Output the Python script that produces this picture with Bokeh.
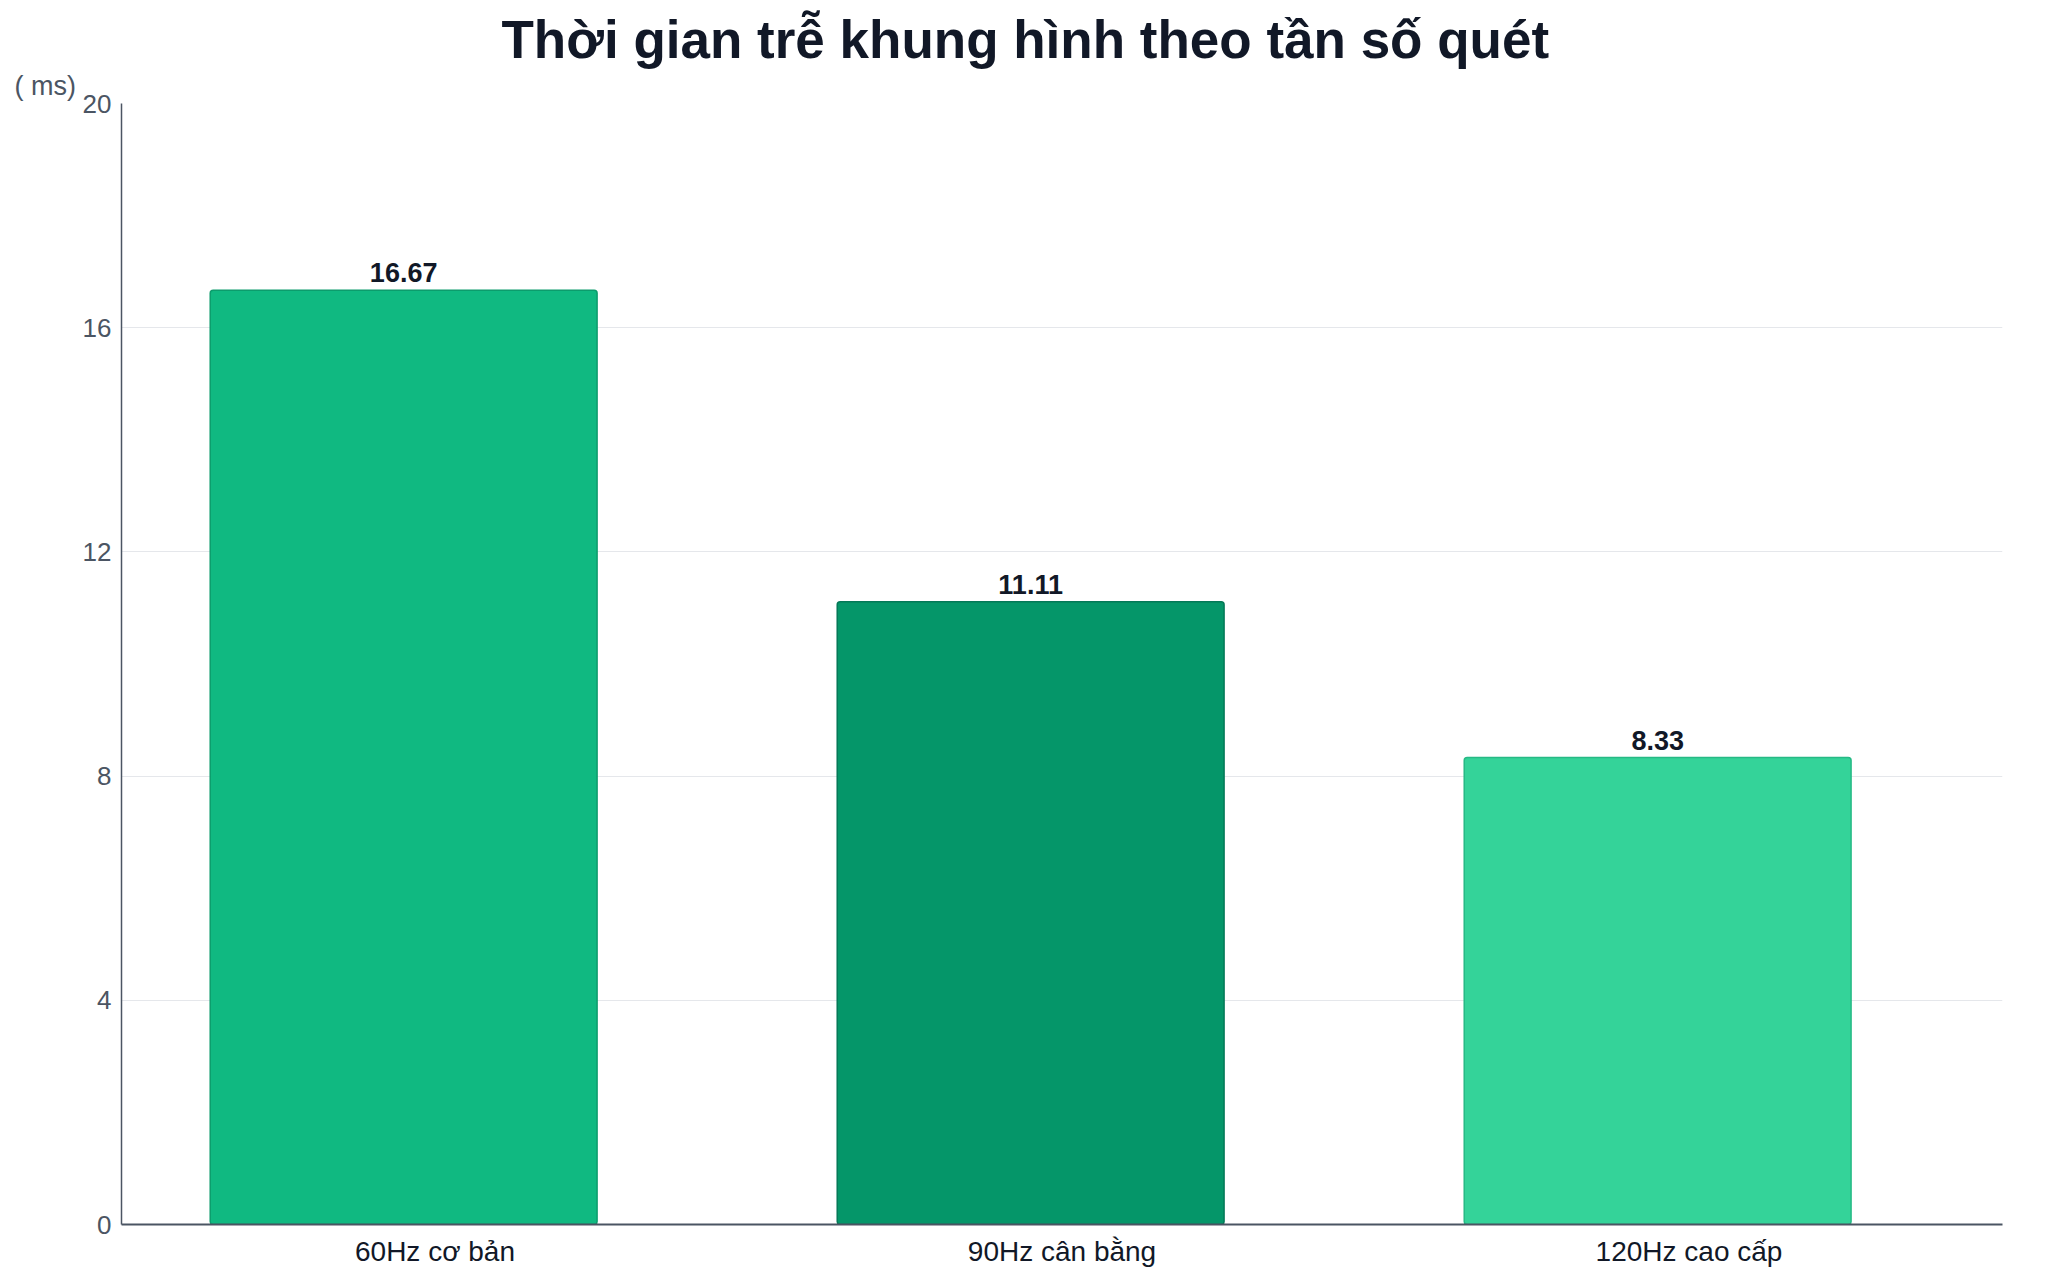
from bokeh.plotting import figure
from bokeh.models import ColumnDataSource, FactorRange, Range1d, FixedTicker, LabelSet, Title
from bokeh.transform import dodge
from bokeh.core.properties import value
from bokeh.embed import file_html
from bokeh.resources import INLINE

categories = ["60Hz cơ bản", "90Hz cân bằng", "120Hz cao cấp"]
values = [16.67, 11.11, 8.33]
value_labels = ["16.67", "11.11", "8.33"]
colors = ["#10b981", "#059669", "#34d399"]
line_colors = ["#0c9c6c", "#047857", "#26b985"]
y_ticks = [0, 4, 8, 12, 16, 20]
unit_text = "( ms)"

src = ColumnDataSource(dict(cat=categories, val=values, lab=value_labels,
                            color=colors, line=line_colors))

p = figure(width=2030, height=1269, output_backend="svg", toolbar_location=None,
           x_range=FactorRange(*categories), y_range=Range1d(0, 20),
           min_border_left=121, min_border_right=28, min_border_top=103, min_border_bottom=45)
p.outline_line_color = None
p.background_fill_color = "white"

unit = Title(text=unit_text, align="left", text_font="Liberation Sans",
             text_font_size="27px", text_font_style="normal", text_color="#4b5563",
             offset=-107, standoff=5)
p.add_layout(unit, "above")

t = Title(text="Thời gian trễ khung hình theo tần số quét", align="left",
          text_font="Liberation Sans", text_font_size="53px", text_font_style="bold",
          text_color="#111827", offset=370, standoff=-24, padding=10)
p.add_layout(t, "above")

xd = dodge("cat", -0.05, range=p.x_range)
p.vbar(x=xd, top="val", width=0.617, source=src, fill_color="color",
       line_color="line", line_width=1.5, border_radius=3)

labels = LabelSet(x=xd, y="val", text="lab", source=src, text_align="center",
                  text_baseline="alphabetic", y_offset=8, text_font=value("Liberation Sans"),
                  text_font_size=value("27px"), text_font_style=value("bold"),
                  text_color=value("#111827"))
p.add_layout(labels)

p.xgrid.grid_line_color = None
p.ygrid.grid_line_color = "#e5e7eb"
p.ygrid.grid_line_width = 1
p.yaxis.ticker = FixedTicker(ticks=y_ticks)

for ax in (p.xaxis, p.yaxis):
    ax.major_tick_line_color = None
    ax.minor_tick_line_color = None
    ax.major_tick_out = 0
    ax.major_tick_in = 0
    ax.major_label_text_font = "Liberation Sans"
p.yaxis.axis_line_color = "#4b5563"
p.yaxis.axis_line_width = 1.5
p.yaxis.major_label_text_font_size = "26px"
p.yaxis.major_label_text_color = "#4b5563"
p.yaxis.major_label_standoff = 10
p.xaxis.axis_line_color = "#4b5563"
p.xaxis.axis_line_width = 2
p.xaxis.major_label_text_font_size = "28px"
p.xaxis.major_label_text_color = "#111827"
p.xaxis.major_label_standoff = 11

open("out.html", "w").write(file_html(p, INLINE))
